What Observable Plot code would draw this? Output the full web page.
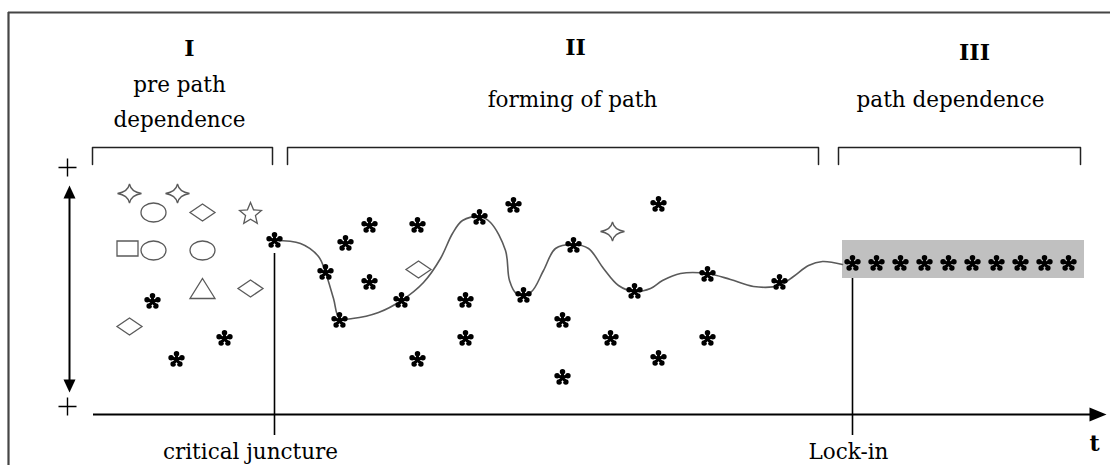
<!DOCTYPE html>
<html><head><meta charset="utf-8">
<script src="https://cdn.jsdelivr.net/npm/d3@7"></script>
<script src="https://cdn.jsdelivr.net/npm/@observablehq/plot@0.6"></script>
<style>html,body{margin:0;padding:0;background:#fff;} #chart svg{display:block;}</style>
</head><body><div id="chart"></div>
<script>
// ---- data (t = time along the axis, level = height above the t axis) ----
const phases = ["I", "II", "III"];
const phaseNumeralT = [96, 482, 881];
const phaseNumeralLevel = [359, 360, 355];
const phaseNames = ["pre path", "dependence", "forming of path", "path dependence"];
const phaseNameT = [86, 86, 479, 857];
const phaseNameLevel = [323, 288, 308, 308];
const bracketStart = [-1, 194, 745];
const bracketEnd = [179, 725, 987];
const bracketTop = 267, bracketBottom = 250;

const junctureNames = ["critical juncture", "Lock-in"];
const junctureT = [181, 759];
const junctureTop = [161, 136];
const junctureLabelT = [157, 755];
const junctureLabelLevel = -44;

const sparkles = [[36, 221], [84, 221], [519, 183]];
const ellipses = [[60, 202], [60, 164], [109, 164]];
const diamonds = [[109, 202], [157, 126], [36, 88], [325, 145]];
const stars = [[157, 202]];
const squares = [[34, 166]];
const triangles = [[109, 126]];

const asterisksFree = [[59,113],[131,76],[83,55],[252,171],[276,189],[324,189],[276,132],[372,114],[372,76],[324,55],[420,209],[469,94],[469,37],[565,210],[517,76],[614,76],[565,56]];
const asterisksOnPath = [[181,174],[232,142],[246,94],[308,114],[386,197],[430,119],[480,169],[541,123],[614,140],[686,132]];
const lockInT = [759, 783, 807, 831, 855, 879, 903, 927, 951, 975];
const lockInLevel = 151;
const lockInBand = {t1: 749, t2: 991, l1: 136, l2: 174};

const pathCurve = [[181,174],[207,171],[225,158],[232,142],[240,116],[246,96],[259,96],[285,102],[308,114],[330,132],[347,156],[359,181],[369,194],[386,198],[397,192],[412,164],[416,134],[423,121],[437,122],[450,144],[462,166],[480,170],[495,166],[510,146],[525,129],[541,123],[557,126],[569,134],[587,141],[614,141],[637,135],[660,128],[686,129],[700,138],[715,149],[729,153],[749,150]];

const yAxisT = -24, yAxisTop = 229, yAxisBottom = 22;
const plusMarks = [[-26, 247], [-26, 8]];
const tAxisEnd = 1013;
const tLabel = ["t"];

// ---- custom symbols ----
const asteriskSym = {draw(ctx) {
  const L = 5.4, w = 1.55, br = 2.75, bd = 5.7;
  for (let k = 0; k < 5; k++) {
    const a = (-90 + 72 * k) * Math.PI / 180;
    const ux = Math.cos(a), uy = Math.sin(a), nx = -uy, ny = ux;
    ctx.moveTo(-nx * w, -ny * w);
    ctx.lineTo(ux * L - nx * w, uy * L - ny * w);
    ctx.lineTo(ux * L + nx * w, uy * L + ny * w);
    ctx.lineTo(nx * w, ny * w);
    ctx.closePath();
    const cx = ux * bd, cy = uy * bd;
    ctx.moveTo(cx + br, cy);
    ctx.arc(cx, cy, br, 0, 2 * Math.PI);
  }
  ctx.moveTo(2.5, 0); ctx.arc(0, 0, 2.5, 0, 2 * Math.PI);
}};
const sparkleSym = {draw(ctx) {
  const rx = 12, ry = 9.5, c = 1.6;
  ctx.moveTo(0, -ry);
  ctx.quadraticCurveTo(c, -c, rx, 0);
  ctx.quadraticCurveTo(c, c, 0, ry);
  ctx.quadraticCurveTo(-c, c, -rx, 0);
  ctx.quadraticCurveTo(-c, -c, 0, -ry);
  ctx.closePath();
}};
const ellipseSym = {draw(ctx) {
  const rx = 12.5, ry = 9.5, k = 0.5523;
  ctx.moveTo(rx, 0);
  ctx.bezierCurveTo(rx, ry * k, rx * k, ry, 0, ry);
  ctx.bezierCurveTo(-rx * k, ry, -rx, ry * k, -rx, 0);
  ctx.bezierCurveTo(-rx, -ry * k, -rx * k, -ry, 0, -ry);
  ctx.bezierCurveTo(rx * k, -ry, rx, -ry * k, rx, 0);
  ctx.closePath();
}};
const diamondSym = {draw(ctx) {
  ctx.moveTo(0, -8.5); ctx.lineTo(12.5, 0); ctx.lineTo(0, 8.5); ctx.lineTo(-12.5, 0); ctx.closePath();
}};
const starSym = {draw(ctx) {
  const R = 11.5, r = 5.2;
  for (let k = 0; k < 10; k++) {
    const a = (-90 + 36 * k) * Math.PI / 180, rr = k % 2 ? r : R;
    const x = rr * Math.cos(a), y = rr * Math.sin(a) + 1.5;
    if (k) ctx.lineTo(x, y); else ctx.moveTo(x, y);
  }
  ctx.closePath();
}};
const squareSym = {draw(ctx) { ctx.rect(-10.5, -7.5, 21, 15); }};
const triangleSym = {draw(ctx) {
  ctx.moveTo(0, -10); ctx.lineTo(12.5, 10); ctx.lineTo(-12.5, 10); ctx.closePath();
}};
const plusSym = {draw(ctx) { ctx.moveTo(-9, 0); ctx.lineTo(9, 0); ctx.moveTo(0, -9); ctx.lineTo(0, 9); }};
const arrowUpSym = {draw(ctx) { ctx.moveTo(0, 0); ctx.lineTo(6, 13); ctx.lineTo(-6, 13); ctx.closePath(); }};
const arrowDownSym = {draw(ctx) { ctx.moveTo(0, 0); ctx.lineTo(-6, -13); ctx.lineTo(6, -13); ctx.closePath(); }};
const arrowRightSym = {draw(ctx) { ctx.moveTo(0, 0); ctx.lineTo(-17, 7); ctx.lineTo(-17, -7); ctx.closePath(); }};

// ---- derived tables ----
const bracketPts = bracketStart.flatMap((s, i) => [
  {b: i, t: s, l: bracketBottom}, {b: i, t: s, l: bracketTop},
  {b: i, t: bracketEnd[i], l: bracketTop}, {b: i, t: bracketEnd[i], l: bracketBottom}
]);
const numerals = phases.map((p, i) => ({text: p, t: phaseNumeralT[i], l: phaseNumeralLevel[i]}));
const names = phaseNames.map((p, i) => ({text: p, t: phaseNameT[i], l: phaseNameLevel[i]}));
const junctures = junctureNames.map((n, i) => ({text: n, t: junctureT[i], top: junctureTop[i], lt: junctureLabelT[i]}));
const lockInStars = lockInT.map(t => [t, lockInLevel]);
const pxT = d => d[0], pxL = d => d[1];

const gray = "#5a5a5a";
const serif = "DejaVu Serif";
const shape = (data, symbol) => Plot.dot(data, {x: pxT, y: pxL, symbol, fill: "none", stroke: gray, strokeWidth: 1.3});
const ast = data => Plot.dot(data, {x: pxT, y: pxL, symbol: asteriskSym, fill: "#000", stroke: "none"});

const chart = Plot.plot({
  width: 1110, height: 465, margin: 0,
  x: {domain: [-93, 1017], axis: null},
  y: {domain: [-51, 414], axis: null},
  style: {background: "#fff"},
  marks: [
    // outer frame
    Plot.ruleY([402], {x1: -85, x2: 1017, stroke: "#454545", strokeWidth: 2.2}),
    Plot.ruleX([-85], {y1: -51, y2: 402, stroke: "#454545", strokeWidth: 2.2}),
    // lock-in band
    Plot.rect([lockInBand], {x1: "t1", x2: "t2", y1: "l1", y2: "l2", fill: "#c0c0c0"}),
    // phase brackets
    Plot.line(bracketPts, {x: "t", y: "l", z: "b", stroke: "#222", strokeWidth: 1.5}),
    // vertical axis with double arrow
    Plot.ruleX([yAxisT], {y1: yAxisBottom + 8, y2: yAxisTop - 8, stroke: "#000", strokeWidth: 2}),
    Plot.dot([[yAxisT, yAxisTop]], {x: pxT, y: pxL, symbol: arrowUpSym, fill: "#000", stroke: "none"}),
    Plot.dot([[yAxisT, yAxisBottom]], {x: pxT, y: pxL, symbol: arrowDownSym, fill: "#000", stroke: "none"}),
    Plot.dot(plusMarks, {x: pxT, y: pxL, symbol: plusSym, fill: "none", stroke: "#000", strokeWidth: 1.4}),
    // t axis
    Plot.ruleY([0], {x1: 0, x2: tAxisEnd - 12, stroke: "#000", strokeWidth: 2}),
    Plot.dot([[tAxisEnd, 0]], {x: pxT, y: pxL, symbol: arrowRightSym, fill: "#000", stroke: "none"}),
    // juncture lines
    Plot.ruleX(junctures, {x: "t", y1: -21, y2: "top", stroke: "#000", strokeWidth: 1.6}),
    // path
    Plot.line(pathCurve, {x: pxT, y: pxL, curve: "catmull-rom", stroke: gray, strokeWidth: 1.6}),
    // alternatives
    shape(sparkles, sparkleSym),
    shape(ellipses, ellipseSym),
    shape(diamonds, diamondSym),
    shape(stars, starSym),
    shape(squares, squareSym),
    shape(triangles, triangleSym),
    ast(asterisksFree),
    ast(asterisksOnPath),
    ast(lockInStars),
    // texts
    Plot.text(numerals, {x: "t", y: "l", text: "text", fontFamily: serif, fontWeight: "bold", fontSize: 22, textAnchor: "middle", lineAnchor: "bottom", fill: "#000"}),
    Plot.text(names, {x: "t", y: "l", text: "text", fontFamily: serif, fontSize: 21.5, textAnchor: "middle", lineAnchor: "bottom", fill: "#000"}),
    Plot.text(junctures, {x: "lt", y: junctureLabelLevel, text: "text", fontFamily: serif, fontSize: 21.5, textAnchor: "middle", lineAnchor: "bottom", fill: "#000"}),
    Plot.text(tLabel, {x: 1001, y: -36, text: d => d, fontFamily: serif, fontWeight: "bold", fontSize: 22, textAnchor: "middle", lineAnchor: "bottom", fill: "#000"})
  ]
});
document.getElementById("chart").appendChild(chart);
</script>
</body></html>
